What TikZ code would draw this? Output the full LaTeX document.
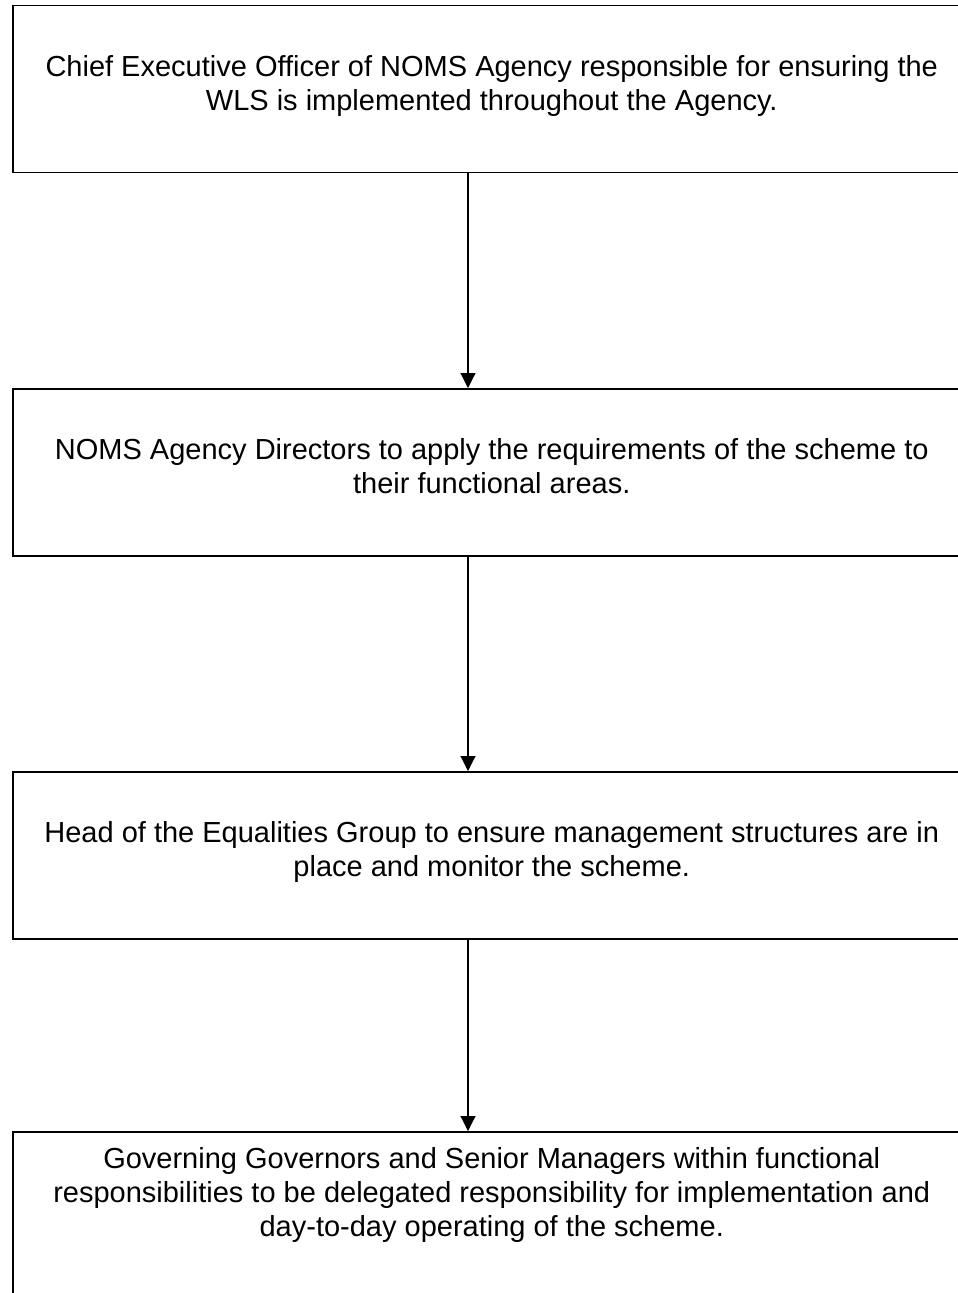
\documentclass[tikz,border=0pt]{standalone}
\usepackage{fontspec}
\setmainfont{Liberation Sans}
\usetikzlibrary{arrows.meta,positioning}

\tikzset{
  role/.style={draw, line width=1.5pt, minimum width=958pt, minimum height=167pt,
    align=center, inner sep=0pt, font=\fontsize{29}{34}\selectfont},
  duty/.style={line width=1.1pt, -{Triangle[length=15pt,width=15pt]}}
}

\begin{document}
\begin{tikzpicture}[x=1pt,y=-1pt]
      \clip (0,0) rectangle (958,1293);
      \fill[white] (0,0) rectangle (958,1293);

      \node[role, anchor=north west, text depth=12pt] (r1) at (12,4.5)
        {Chief Executive Officer of NOMS Agency responsible for ensuring the\\
         WLS is implemented throughout the Agency.};
      \node[role, anchor=north west, text depth=12pt] (r2) at (12,388)
        {NOMS Agency Directors to apply the requirements of the scheme to\\
         their functional areas.};
      \node[role, anchor=north west, text depth=12pt] (r3) at (12,771)
        {Head of the Equalities Group to ensure management structures are in\\
         place and monitor the scheme.};
      \node[role, anchor=north west, minimum height=0pt, inner ysep=16pt,
            text depth=90pt] (r4) at (12,1131)
        {Governing Governors and Senior Managers within functional\\
         responsibilities to be delegated responsibility for implementation and\\
         day-to-day operating of the scheme.};

      \coordinate (ax) at (468,0);

      \draw[duty] (r1.south -| ax) -- (r2.north -| ax);
      \draw[duty] (r2.south -| ax) -- (r3.north -| ax);
      \draw[duty] (r3.south -| ax) -- (r4.north -| ax);
\end{tikzpicture}
\end{document}
